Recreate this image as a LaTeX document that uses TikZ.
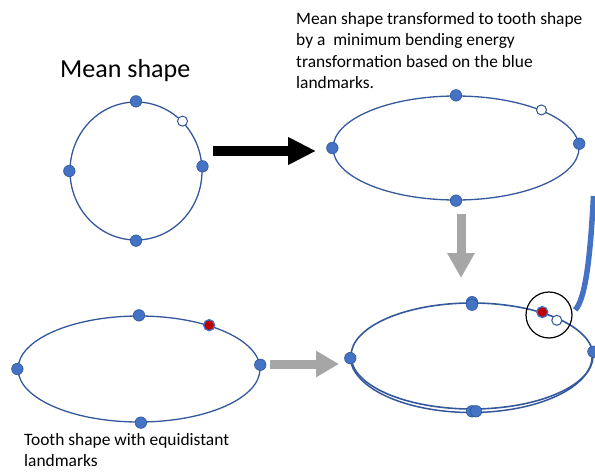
\documentclass[tikz,border=0pt]{standalone}
\usepackage{fontspec}
\setmainfont{Carlito}
\usetikzlibrary{shapes.geometric,arrows.meta,calc}

\definecolor{outlineblue}{RGB}{52,88,156}
\definecolor{dotblue}{RGB}{68,114,196}
\definecolor{dotedge}{RGB}{47,85,151}
\definecolor{markred}{RGB}{192,0,0}
\definecolor{arrowgray}{RGB}{166,166,166}

\tikzset{
  outline/.style={ellipse, draw=outlineblue, line width=1.3pt, inner sep=0pt},
  landmark/.style={circle, fill=dotblue, draw=dotedge, line width=0.6pt, minimum size=11.5pt, inner sep=0pt},
  opendot/.style={circle, fill=white, draw=dotedge, line width=1pt, minimum size=10pt, inner sep=0pt},
  reddot/.style={circle, fill=markred, draw=dotblue, line width=1.3pt, minimum size=11pt, inner sep=0pt},
  blackarrow/.style={line width=10pt, -{Triangle[length=28pt,width=26pt]}},
  grayarrow/.style={draw=arrowgray, line width=9pt, -{Triangle[length=25pt,width=26pt]}},
  caption/.style={font=\fontsize{17.4}{21.2}\selectfont, align=left, inner sep=0pt},
}

\begin{document}
\begin{tikzpicture}[x=1pt, y=-1pt]
  \useasboundingbox (0,0) rectangle (595,474);

  % mean shape
  \node[anchor=base west, inner sep=0pt, font=\fontsize{26}{31}\selectfont] (meantitle) at (60,77) {Mean shape};
  \node[outline, minimum width=132pt, minimum height=138pt] (mean) at (136,171) {};
  \node[landmark] (m1) at (mean.90) {};
  \node[landmark] (m2) at (mean.180) {};
  \node[landmark] (m3) at (mean.4) {};
  \node[landmark] (m4) at (mean.270) {};
  \node[opendot] (m5) at (mean.47) {};

  % transformed shape
  \node[caption, anchor=north west] (ttext) at (296,12.5)
    {Mean shape transformed to tooth shape\\by a~ minimum bending energy\\transformation based on the blue\\landmarks.};
  \node[outline, minimum width=246pt, minimum height=104pt] (warp) at (456,148) {};
  \node[landmark] (w1) at (warp.90) {};
  \node[landmark] (w2) at (warp.180) {};
  \node[landmark] (w3) at (warp.2.3) {};
  \node[landmark] (w4) at (warp.270) {};
  \node[opendot] (w5) at (warp.24) {};

  % tooth shape with equidistant landmarks
  \node[outline, minimum width=242pt, minimum height=106pt] (tooth) at (139,369) {};
  \node[landmark] (t1) at (tooth.90) {};
  \node[landmark] (t2) at (tooth.180) {};
  \node[landmark] (t3) at (tooth.2) {};
  \node[landmark] (t4) at (tooth.272) {};
  \node[reddot] (t5) at (tooth.32) {};
  \node[caption, anchor=north west] (btext) at (24,433.5)
    {Tooth shape with equidistant\\landmarks};

  % overlay of both outlines: the lower half runs double
  \node[outline, line width=1.6pt, minimum width=242pt, minimum height=106pt] (ovA) at (472,356) {};
  \draw[outlineblue, line width=1.5pt] (ovA.180) arc[start angle=180, end angle=0, x radius=121, y radius=56.5];
  \node[landmark] (o1) at (ovA.90) {};
  \node[landmark] (o1b) at ($(ovA.90)+(0,2.5)$) {};
  \node[landmark] (o2) at (ovA.181) {};
  \node[landmark] (o3) at (ovA.2) {};
  \node[landmark] (o4) at ($(ovA.270)+(0,1.5)$) {};
  \node[landmark] (o4b) at ($(ovA.270)+(4,1.5)$) {};
  \node[reddot] (o5) at (ovA.32) {};
  \node[opendot] (o6) at ($(ovA.24)+(-1,2.5)$) {};
  \node[circle, draw=black, line width=1.2pt, minimum size=46pt, inner sep=0pt] (ring) at (549,315) {};

  % arrows between the stages
  \coordinate (a1s) at (213,151);
  \coordinate (a1e) at (316,151);
  \draw[blackarrow] (a1s) -- (a1e);
  \coordinate (a2s) at (461,214);
  \coordinate (a2e) at (461,278);
  \draw[grayarrow] (a2s) -- (a2e);
  \coordinate (a3s) at (270,364);
  \coordinate (a3e) at (339,364);
  \draw[grayarrow, -{Triangle[length=23pt,width=25pt]}] (a3s) -- (a3e);

  % callout line leaving the ring
  \coordinate (callout) at (593.5,196);
  \draw[dotblue, line width=5.5pt] (ring.10) ++(3,-1) .. controls (585,299) and (590,262) .. (callout);
\end{tikzpicture}
\end{document}
